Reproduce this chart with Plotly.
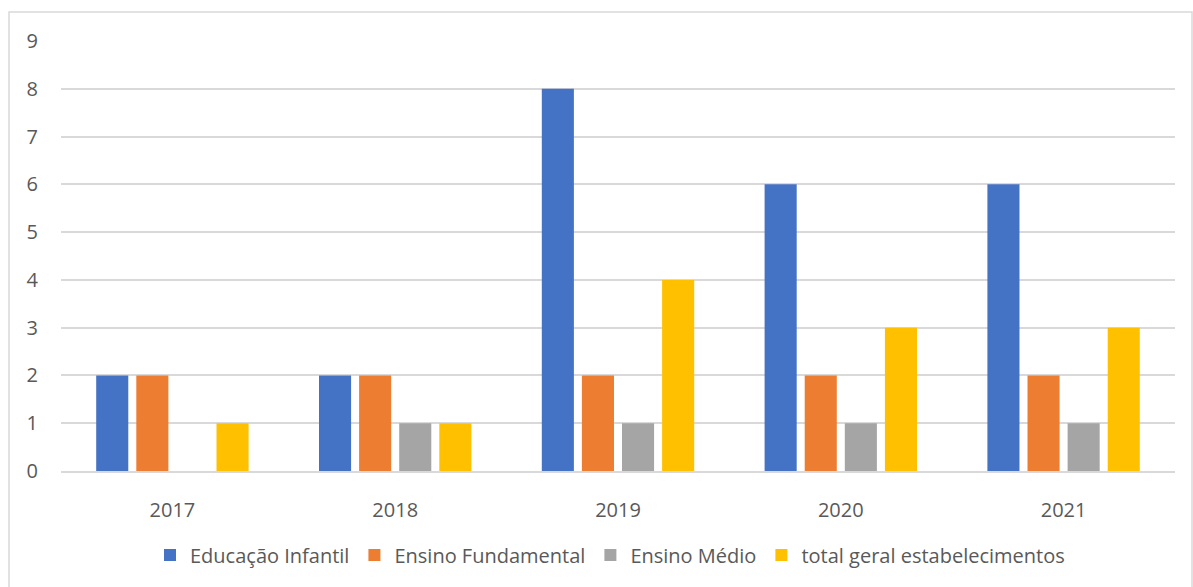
import plotly.graph_objects as go

anos = ["2017", "2018", "2019", "2020", "2021"]
educacao_infantil = [2, 2, 8, 6, 6]
ensino_fundamental = [2, 2, 2, 2, 2]
ensino_medio = [0, 1, 1, 1, 1]
total_geral = [1, 1, 4, 3, 3]

series = [
    ("Educação Infantil", educacao_infantil, "#4472C4"),
    ("Ensino Fundamental", ensino_fundamental, "#ED7D31"),
    ("Ensino Médio", ensino_medio, "#A5A5A5"),
    ("total geral estabelecimentos", total_geral, "#FFC000"),
]

fig = go.Figure()
for name, vals, color in series:
    fig.add_trace(go.Bar(x=anos, y=vals, name=name, marker=dict(color=color, line=dict(width=0))))

W, H = 1193, 587
L, R, T, B = 61, 18, 41, 116
pw, ph = W - L - R, H - T - B

def px(x):
    return (x - L) / pw

def py(y):
    return (H - B - y) / ph

fig.update_layout(
    width=W, height=H,
    margin=dict(l=L, r=R, t=T, b=B),
    paper_bgcolor="white", plot_bgcolor="white",
    font=dict(family="Open Sans", size=20, color="#595959"),
    barmode="group", bargap=0.28, bargroupgap=0.2,
    showlegend=True,
    legend=dict(orientation="h", x=px(610), xanchor="center", y=py(555), yanchor="middle",
                font=dict(size=20, color="#595959"), traceorder="normal"),
    xaxis=dict(showgrid=False, showline=True, linecolor="#D9D9D9", linewidth=1.5,
               ticks="", ticklabelstandoff=20, tickfont=dict(size=20)),
    yaxis=dict(range=[0, 9], dtick=1, showgrid=True, gridcolor="#D9D9D9", gridwidth=1.5,
               zeroline=False, ticks="", ticklabelstandoff=22, tickfont=dict(size=20)),
    shapes=[dict(type="rect", xref="paper", yref="paper",
                 x0=px(9), x1=px(1192), y0=py(590), y1=py(12),
                 line=dict(color="#D9D9D9", width=1.5), fillcolor="rgba(0,0,0,0)", layer="below")],
)

fig.write_html("out.html", config={"displayModeBar": False},
               post_script="document.body.style.margin='0px';document.body.style.overflow='hidden';")
